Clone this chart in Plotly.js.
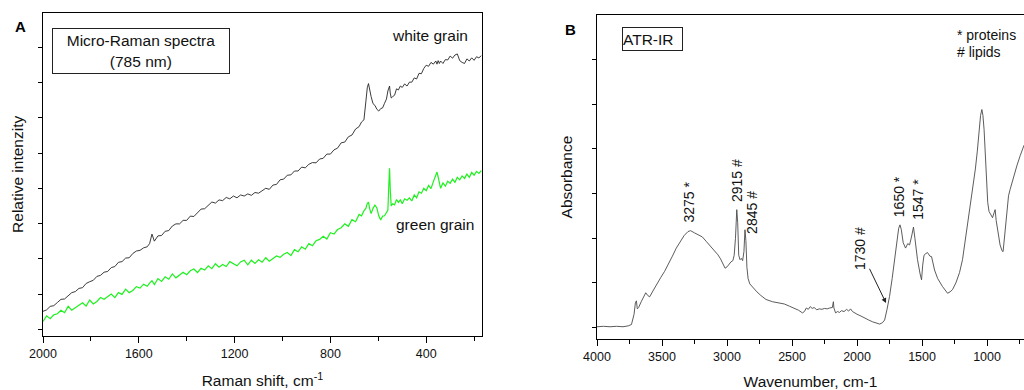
<!DOCTYPE html>
<html>
<head>
<meta charset="utf-8">
<script src="https://cdn.plot.ly/plotly-3.0.1.min.js"></script>
<style>html,body{margin:0;padding:0;background:#fff;}#chart{width:1024px;height:390px;}</style>
</head>
<body>
<div id="chart"></div>
<script>
// ---- Panel A: Micro-Raman spectra (Raman shift, cm-1) ----
const ramanShift = [
  2000,1985,1970,1955,1940,1925,1910,1895,1880,1865,
  1850,1835,1820,1805,1790,1775,1760,1745,1730,1715,
  1700,1685,1670,1655,1640,1625,1610,1595,1580,1565,
  1555,1545,1535,1520,1505,1490,1475,1460,1445,1430,
  1415,1400,1385,1370,1355,1340,1325,1310,1295,1280,
  1265,1250,1235,1220,1205,1190,1175,1160,1145,1130,
  1115,1100,1085,1070,1055,1040,1025,1010,995,980,
  965,950,935,920,905,890,875,860,845,830,
  815,800,785,770,755,740,725,710,695,680,
  670,660,652,646,641,636,630,622,614,606,
  598,590,582,574,566,560,556,553,550,546,
  540,532,524,516,508,500,490,480,470,460,
  450,440,430,420,410,400,390,380,370,360,
  355,350,345,340,330,320,310,300,290,280,
  270,260,250,240,230,220,210,200,190,180,
  170
];
const whiteGrain = [
  0.51,0.55,0.65,0.67,0.76,0.85,0.86,0.95,1.04,1.07,
  1.16,1.18,1.30,1.35,1.39,1.50,1.53,1.62,1.64,1.75,
  1.78,1.90,1.92,2.02,2.03,2.15,2.22,2.24,2.31,2.34,
  2.43,2.70,2.50,2.65,2.66,2.78,2.80,2.93,2.99,2.99,
  3.09,3.09,3.21,3.20,3.32,3.41,3.42,3.52,3.61,3.58,
  3.67,3.65,3.74,3.70,3.78,3.73,3.81,3.78,3.84,3.80,
  3.88,3.86,3.94,4.00,3.97,4.09,4.11,4.24,4.26,4.37,
  4.38,4.49,4.49,4.60,4.58,4.68,4.73,4.72,4.83,4.85,
  4.97,4.97,5.09,5.14,5.29,5.31,5.46,5.51,5.68,5.75,
  5.88,5.94,6.45,6.85,6.97,6.78,6.60,6.40,6.35,6.24,
  6.19,6.26,6.28,6.41,6.53,6.76,6.88,6.90,6.70,6.56,
  6.60,6.64,6.82,6.79,6.90,6.86,6.96,6.90,7.01,7.01,
  7.13,7.10,7.26,7.25,7.40,7.49,7.46,7.57,7.52,7.61,
  7.52,7.62,7.54,7.61,7.54,7.65,7.64,7.75,7.69,7.78,
  7.81,7.62,7.57,7.54,7.67,7.61,7.70,7.63,7.73,7.70,
  7.76
];
const greenGrain = [
  0.22,0.38,0.30,0.41,0.44,0.54,0.47,0.65,0.54,0.60,
  0.68,0.75,0.66,0.83,0.72,0.79,0.90,0.85,0.93,1.00,
  0.90,1.04,0.99,1.14,1.04,1.10,1.21,1.17,1.28,1.22,
  1.31,1.38,1.27,1.44,1.36,1.49,1.42,1.57,1.46,1.53,
  1.62,1.55,1.66,1.71,1.61,1.73,1.68,1.80,1.72,1.86,
  1.76,1.84,1.78,1.92,1.85,1.80,1.91,1.96,1.83,1.96,
  1.87,1.97,1.90,2.03,1.93,2.01,2.08,2.04,2.13,2.18,
  2.09,2.26,2.20,2.34,2.27,2.43,2.37,2.51,2.55,2.64,
  2.56,2.74,2.70,2.83,2.88,2.99,2.92,3.11,3.05,3.26,
  3.22,3.36,3.43,3.57,3.61,3.42,3.28,3.43,3.52,3.44,
  3.22,3.10,3.21,3.22,3.34,3.38,4.10,4.57,3.95,3.50,
  3.56,3.53,3.68,3.60,3.67,3.56,3.70,3.66,3.73,3.64,
  3.81,3.73,3.90,3.86,4.00,3.93,4.08,3.99,4.19,4.35,
  4.46,4.32,4.09,4.00,4.15,4.06,4.20,4.14,4.26,4.17,
  4.31,4.24,4.35,4.28,4.40,4.31,4.45,4.37,4.48,4.42,
  4.50
];

// ---- Panel B: ATR-IR spectrum (wavenumber, cm-1) ----
const irWavenumber = [
  4000,3950,3900,3850,3800,3760,3735,3715,3705,3697,3690,3680,3660,3640,3625,3610,3595,
  3570,3540,3510,3480,3450,3420,3390,3360,3330,3300,3280,3250,3220,3190,3160,3130,3100,
  3070,3050,3030,3015,3000,2985,2970,2955,2945,2935,2925,2918,2910,2900,2890,2880,2870,
  2862,2855,2847,2838,2825,2800,2770,2740,2700,2650,2600,2560,2520,2480,2450,2420,2405,
  2390,2375,2360,2345,2330,2310,2290,2270,2250,2230,2210,2190,2182,2178,2165,2150,2135,
  2120,2100,2080,2065,2050,2035,2020,2000,1970,1940,1910,1880,1850,1826,1805,1788,1770,
  1750,1730,1711,1695,1680,1670,1660,1645,1627,1610,1596,1580,1566,1555,1535,1515,1504,
  1495,1485,1470,1458,1440,1427,1404,1380,1343,1304,1285,1266,1240,1212,1189,1170,1150,
  1130,1110,1090,1075,1062,1050,1040,1032,1023,1010,995,985,970,958,945,938,930,915,
  900,885,877,865,850,835,823,800,769,745,723,716
];
const irAbsorbance = [
  0.02,0.03,0.02,0.03,0.02,0.04,0.07,0.30,0.55,0.60,0.42,0.45,0.58,0.70,0.78,0.72,0.69,
  0.82,0.98,1.12,1.26,1.45,1.60,1.78,1.93,2.06,2.15,2.17,2.12,2.08,2.03,1.93,1.83,1.74,
  1.63,1.54,1.40,1.33,1.36,1.42,1.47,1.50,1.62,2.00,2.64,2.35,1.62,1.52,1.55,1.50,1.70,
  2.19,1.95,1.35,1.10,0.98,0.89,0.80,0.72,0.63,0.58,0.56,0.53,0.48,0.43,0.39,0.33,0.36,
  0.44,0.41,0.47,0.43,0.45,0.40,0.42,0.41,0.43,0.42,0.44,0.45,0.58,0.44,0.33,0.36,0.34,
  0.38,0.36,0.41,0.37,0.42,0.36,0.33,0.30,0.26,0.21,0.17,0.13,0.10,0.08,0.11,0.17,0.40,
  0.70,1.10,1.52,1.95,2.22,2.30,2.20,1.90,1.78,1.88,1.85,2.05,2.25,2.00,1.52,1.20,1.07,
  1.40,1.62,1.66,1.68,1.60,1.59,1.29,1.10,0.92,0.77,0.80,0.85,1.00,1.23,1.52,1.90,2.30,
  2.70,3.10,3.55,3.95,4.40,4.75,4.88,4.75,4.43,3.50,2.80,2.60,2.50,2.46,2.58,2.64,2.40,2.12,
  1.85,1.72,1.70,2.05,2.55,2.95,3.09,3.35,3.64,3.85,4.00,4.08
];

// Peak assignments (label text, wavenumber position, absorbance position)
const peakLabels = ["3275 *", "2915 #", "2845 #", "1650 *", "1547 *"];
const peakLabelX = [3300, 2923, 2808, 1677, 1531];
const peakLabelY = [2.80, 3.28, 2.59, 2.92, 2.86];

const FONT = "Liberation Sans, Arial, Helvetica, sans-serif";
const H = 390, W = 1024;

const traces = [
  {x: ramanShift, y: whiteGrain, type: "scatter", mode: "lines", name: "white grain",
   line: {color: "#262626", width: 0.9}, xaxis: "x", yaxis: "y", hoverinfo: "skip"},
  {x: ramanShift, y: greenGrain, type: "scatter", mode: "lines", name: "green grain",
   line: {color: "#1ff01f", width: 1.2}, xaxis: "x", yaxis: "y", hoverinfo: "skip"},
  {x: irWavenumber, y: irAbsorbance, type: "scatter", mode: "lines", name: "ATR-IR",
   line: {color: "#4a4a4a", width: 0.9}, xaxis: "x2", yaxis: "y2", hoverinfo: "skip"}
];

const axisCommon = {
  showline: true, linecolor: "#000", linewidth: 1.2, showgrid: false, zeroline: false,
  ticks: "outside", tickcolor: "#000", tickwidth: 1,
  tickfont: {family: FONT, size: 12.5, color: "#111"}
};

const annotations = [
  {xref: "paper", yref: "paper", x: 20/W, y: 1-27/H, text: "<b>A</b>", showarrow: false,
   font: {family: FONT, size: 15, color: "#000"}, xanchor: "center", yanchor: "middle"},
  {xref: "paper", yref: "paper", x: 570/W, y: 1-30/H, text: "<b>B</b>", showarrow: false,
   font: {family: FONT, size: 15, color: "#000"}, xanchor: "center", yanchor: "middle"},
  {xref: "paper", yref: "paper", x: 141/W, y: 1-51/H, text: "Micro-Raman spectra<br>(785 nm)",
   showarrow: false, bordercolor: "#222", borderwidth: 1, borderpad: 0, width: 176, height: 44,
   font: {family: FONT, size: 15.5, color: "#111"}, xanchor: "center", yanchor: "middle"},
  {xref: "paper", yref: "paper", x: 430/W, y: 1-35/H, text: "white grain", showarrow: false,
   font: {family: FONT, size: 15.5, color: "#111"}, xanchor: "center", yanchor: "middle"},
  {xref: "paper", yref: "paper", x: 435/W, y: 1-225/H, text: "green grain", showarrow: false,
   font: {family: FONT, size: 15.5, color: "#111"}, xanchor: "center", yanchor: "middle"},
  {xref: "paper", yref: "paper", x: 652.5/W, y: 1-39/H, text: "ATR-IR", showarrow: false,
   bordercolor: "#222", borderwidth: 1, borderpad: 0, width: 59, height: 22, align: "left",
   font: {family: FONT, size: 15.5, color: "#111"}, xanchor: "center", yanchor: "middle"},
  {xref: "paper", yref: "paper", x: 955/W, y: 1-35/H, text: "* proteins", showarrow: false,
   font: {family: FONT, size: 14, color: "#111"}, xanchor: "left", yanchor: "middle"},
  {xref: "paper", yref: "paper", x: 955/W, y: 1-52/H, text: "# lipids", showarrow: false,
   font: {family: FONT, size: 14, color: "#111"}, xanchor: "left", yanchor: "middle"},
  // 1730 # with arrow pointing to the ester carbonyl shoulder
  {xref: "x2", yref: "y2", x: 1777, y: 0.55, text: "1730 #", textangle: -90,
   showarrow: true, arrowhead: 2, arrowsize: 1, arrowwidth: 1, arrowcolor: "#222",
   ax: -26, ay: -54, standoff: 0,
   font: {family: FONT, size: 14, color: "#111"}}
];
peakLabels.forEach((t, i) => {
  annotations.push({xref: "x2", yref: "y2", x: peakLabelX[i], y: peakLabelY[i], text: t,
    textangle: -90, showarrow: false, xanchor: "center", yanchor: "middle",
    font: {family: FONT, size: 14, color: "#111"}});
});

const layout = {
  width: W, height: H,
  margin: {l: 0, r: 0, t: 0, b: 0},
  paper_bgcolor: "#fff", plot_bgcolor: "#fff",
  showlegend: false,
  font: {family: FONT, color: "#111"},
  xaxis: Object.assign({}, axisCommon, {
    domain: [43/W, 482/W], range: [2000, 167], anchor: "y",
    tickmode: "linear", tick0: 0, dtick: 400, ticklen: 6, mirror: true,
    minor: {dtick: 200, tick0: 0, ticklen: 3.5, ticks: "outside", tickcolor: "#000"},
    title: {text: "Raman shift, cm<sup>-1</sup>", font: {family: FONT, size: 15.5, color: "#111"}, standoff: 15}
  }),
  yaxis: Object.assign({}, axisCommon, {
    domain: [1-336/H, 1-12.7/H], range: [-0.19, 8.98], anchor: "x",
    tickmode: "linear", tick0: 0, dtick: 1, ticklen: 4, showticklabels: false, mirror: true,
    title: {text: "Relative intenzity", font: {family: FONT, size: 15.5, color: "#111"}, standoff: 10}
  }),
  xaxis2: Object.assign({}, axisCommon, {
    domain: [597/W, 1], range: [4000, 716], anchor: "y2",
    tickmode: "linear", tick0: 0, dtick: 500, ticklen: 6, mirror: true,
    minor: {dtick: 250, tick0: 0, ticklen: 3.5, ticks: "outside", tickcolor: "#000"},
    title: {text: "Wavenumber, cm-1", font: {family: FONT, size: 15.5, color: "#111"}, standoff: 15}
  }),
  yaxis2: Object.assign({}, axisCommon, {
    domain: [1-339/H, 1-15/H], range: [-0.254, 6.995], anchor: "x2",
    tickmode: "linear", tick0: 0, dtick: 1, ticklen: 4, showticklabels: false, mirror: false,
    title: {text: "Absorbance", font: {family: FONT, size: 15.5, color: "#111"}, standoff: 15}
  }),
  annotations: annotations
};

Plotly.newPlot("chart", traces, layout, {displayModeBar: false, staticPlot: true});
</script>
</body>
</html>
